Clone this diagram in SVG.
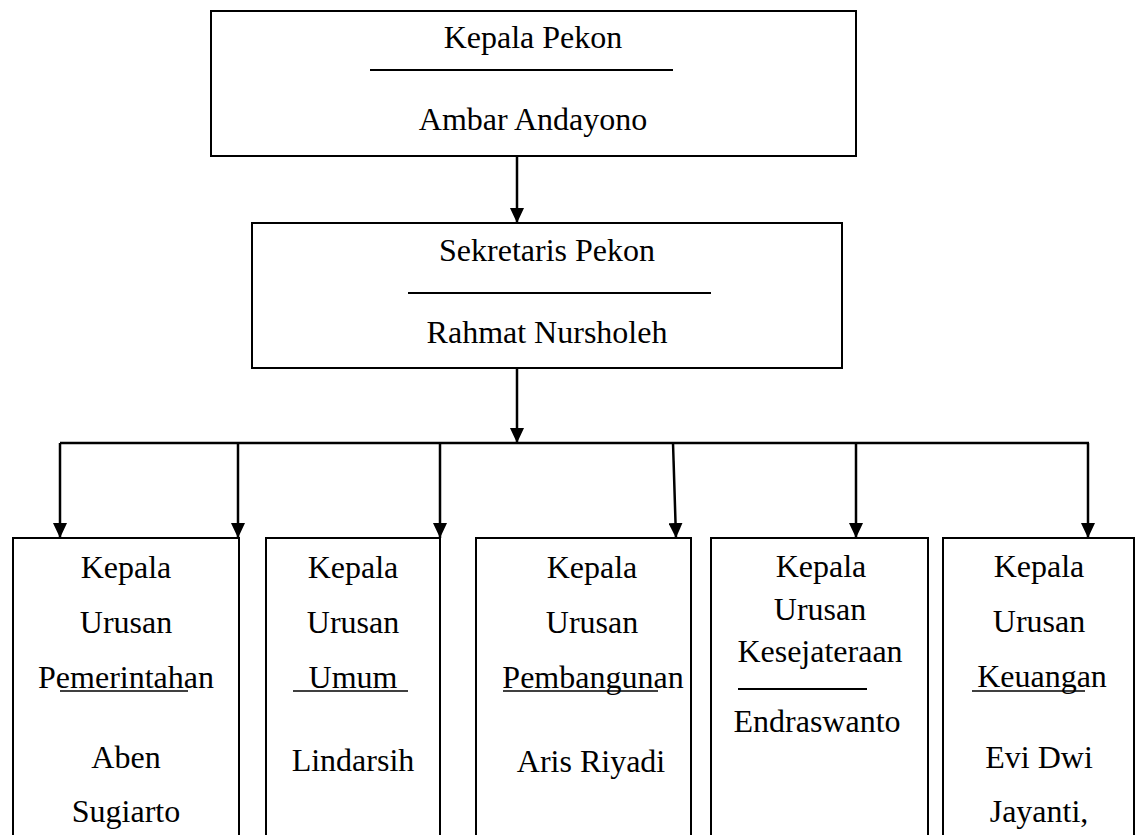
<svg xmlns="http://www.w3.org/2000/svg" width="1139" height="835" viewBox="0 0 1139 835">
<style>
.box{fill:#fff;stroke:#000;stroke-width:2}
.t{font-family:'Liberation Serif','Times New Roman','Tinos','DejaVu Serif',serif;font-size:32px;fill:#000;text-anchor:middle}
.sep{stroke:#000;stroke-width:2}
.ul{stroke:#000;stroke-width:1.6}
.conn{fill:none;stroke:#000;stroke-width:2.5}
</style>
<defs>
<marker id="ah" viewBox="0 0 15 14" refX="15" refY="7" markerWidth="15" markerHeight="14" markerUnits="userSpaceOnUse" orient="auto">
<path d="M0,0 L15,7 L0,14 Z" fill="#000"/>
</marker>
</defs>
<rect width="1139" height="835" fill="#fff"/>
<g font-family="Liberation Serif, Times New Roman, serif">
<g id="kepala-pekon">
<rect class="box" x="211" y="11" width="645" height="145"/>
<text class="t" x="533" y="48">Kepala Pekon</text>
<line class="sep" x1="370" y1="70" x2="673" y2="70"/>
<text class="t" x="533" y="130">Ambar Andayono</text>
</g>
<g id="sekretaris-pekon">
<rect class="box" x="252" y="223" width="590" height="145"/>
<text class="t" x="547" y="261">Sekretaris Pekon</text>
<line class="sep" x1="408" y1="293" x2="711" y2="293"/>
<text class="t" x="547" y="343">Rahmat Nursholeh</text>
</g>
<g id="kaur-pemerintahan">
<rect class="box" x="13" y="538" width="226" height="310"/>
<text class="t" x="126" y="578">Kepala</text>
<text class="t" x="126" y="633">Urusan</text>
<text class="t" x="126" y="688">Pemerintahan</text>
<line class="ul" x1="60" y1="691" x2="188" y2="691"/>
<text class="t" x="126" y="768">Aben</text>
<text class="t" x="126" y="822">Sugiarto</text>
</g>
<g id="kaur-umum">
<rect class="box" x="266" y="538" width="174" height="310"/>
<text class="t" x="353" y="578">Kepala</text>
<text class="t" x="353" y="633">Urusan</text>
<text class="t" x="353" y="688">Umum</text>
<line class="ul" x1="293" y1="691" x2="408" y2="691"/>
<text class="t" x="353" y="771">Lindarsih</text>
</g>
<g id="kaur-pembangunan">
<rect class="box" x="476" y="538" width="215" height="310"/>
<text class="t" x="592" y="578">Kepala</text>
<text class="t" x="592" y="633">Urusan</text>
<text class="t" x="593" y="688">Pembangunan</text>
<line class="ul" x1="503" y1="691" x2="658" y2="691"/>
<text class="t" x="591" y="772">Aris Riyadi</text>
</g>
<g id="kaur-kesejateraan">
<rect class="box" x="711" y="538" width="217" height="310"/>
<text class="t" x="821" y="577">Kepala</text>
<text class="t" x="820" y="620">Urusan</text>
<text class="t" x="820" y="662">Kesejateraan</text>
<line class="sep" x1="738" y1="689" x2="867" y2="689"/>
<text class="t" x="817" y="732">Endraswanto</text>
</g>
<g id="kaur-keuangan">
<rect class="box" x="943" y="538" width="191" height="310"/>
<text class="t" x="1039" y="577">Kepala</text>
<text class="t" x="1039" y="632">Urusan</text>
<text class="t" x="1042" y="687">Keuangan</text>
<line class="ul" x1="972" y1="691" x2="1085" y2="691"/>
<text class="t" x="1039" y="768">Evi Dwi</text>
<text class="t" x="1039" y="822">Jayanti,</text>
</g>
</g>
<g id="connectors">
<line class="conn" x1="517" y1="156" x2="517" y2="223" marker-end="url(#ah)"/>
<line class="conn" x1="517" y1="368" x2="517" y2="443" marker-end="url(#ah)"/>
<line class="conn" x1="60" y1="443" x2="1089" y2="443"/>
<line class="conn" x1="60" y1="443" x2="60" y2="538" marker-end="url(#ah)"/>
<line class="conn" x1="238" y1="443" x2="238" y2="538" marker-end="url(#ah)"/>
<line class="conn" x1="440" y1="443" x2="440" y2="538" marker-end="url(#ah)"/>
<line class="conn" x1="673" y1="443" x2="676" y2="538" marker-end="url(#ah)"/>
<line class="conn" x1="856" y1="443" x2="856" y2="538" marker-end="url(#ah)"/>
<line class="conn" x1="1088" y1="443" x2="1088" y2="538" marker-end="url(#ah)"/>
</g>
</svg>
